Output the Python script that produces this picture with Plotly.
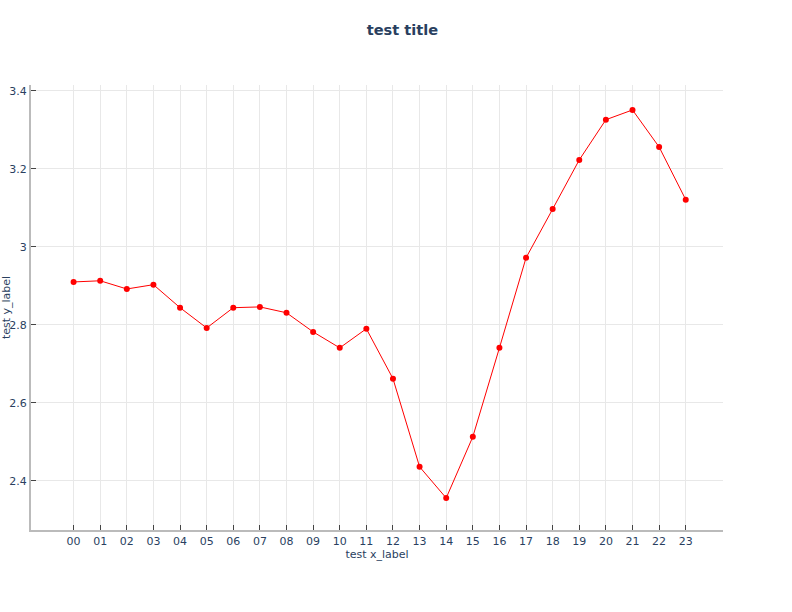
import plotly.graph_objects as go

hours = ["00", "01", "02", "03", "04", "05", "06", "07", "08", "09", "10", "11",
         "12", "13", "14", "15", "16", "17", "18", "19", "20", "21", "22", "23"]
values = [2.910, 2.913, 2.892, 2.903, 2.844, 2.792, 2.844, 2.846, 2.831, 2.782, 2.741, 2.790,
          2.662, 2.436, 2.356, 2.513, 2.741, 2.972, 3.097, 3.223, 3.326, 3.351, 3.256, 3.121]

fig = go.Figure(go.Scatter(
    x=hours, y=values, mode="lines+markers",
    line=dict(color="red", width=1),
    marker=dict(color="red", size=6),
))

font_color = "#2a3f5f"
fig.update_layout(
    width=792, height=612,
    template="plotly_white",
    font=dict(family="DejaVu Sans", color=font_color, size=12),
    title=dict(text="<b>test title</b>", x=402.5 / 792, xanchor="center",
               y=1 - 29.5 / 612, yanchor="middle",
               font=dict(size=14.6, family="DejaVu Sans", color=font_color)),
    margin=dict(l=31, r=69, t=85, b=82, autoexpand=False),
    paper_bgcolor="white", plot_bgcolor="white",
    showlegend=False,
)
fig.update_xaxes(
    type="category", range=[-1.6, 24.4], automargin=False,
    title=dict(text="test x_label", standoff=1, font=dict(size=11)),
    showline=True, linecolor="#bbbbbb", linewidth=2,
    ticks="inside", tickcolor="#444", ticklen=5,
    showgrid=True, gridcolor="#e8e8e8",
    tickfont=dict(size=11),
)
fig.update_yaxes(
    range=[2.274, 3.415], automargin=False,
    title=dict(text="test y_label", standoff=0, font=dict(size=11)),
    showline=True, linecolor="#bbbbbb", linewidth=2,
    ticks="inside", tickcolor="#444", ticklen=5,
    showgrid=True, gridcolor="#e8e8e8",
    tickvals=[2.4, 2.6, 2.8, 3.0, 3.2, 3.4],
    ticktext=["2.4", "2.6", "2.8", "3", "3.2", "3.4"],
    tickfont=dict(size=11),
    zeroline=False,
)

fig.write_html("out.html", config={"displayModeBar": False},
               post_script="document.body.style.margin = '0px';")
